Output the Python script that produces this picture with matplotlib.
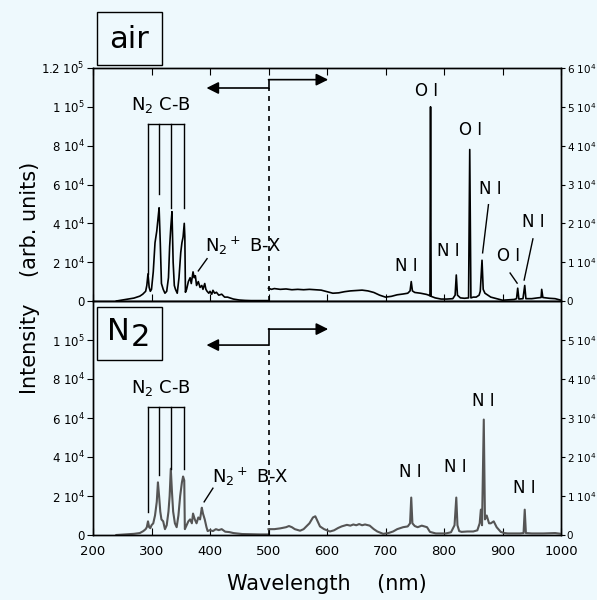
import matplotlib.pyplot as plt
from matplotlib.patches import Rectangle

plt.rcParams['font.family'] = ['DejaVu Sans']
plt.rcParams['mathtext.default'] = 'regular'

BG = '#eef9fd'

# ---- data ----
# air, 240-500 nm, left axis
air_uv_wl = [240, 250, 260, 270, 280, 285, 290, 292, 294, 296, 298, 300, 303, 306, 309, 311, 313,
             315, 317, 320, 323, 326, 329, 331, 333, 335, 337, 339, 341, 344, 347, 350, 352, 354,
             356, 357, 358, 360, 363, 366, 368, 371, 373, 375, 377, 380, 383, 386, 388, 391, 393,
             395, 398, 400, 403, 405, 408, 411, 415, 420, 425, 430, 435, 440, 450, 460, 470, 480,
             490, 499]
air_uv_int = [0, 500, 1000, 1500, 2500, 3500, 5000, 8000, 14000, 7000, 5000, 6000, 15000, 30000,
              36000, 42000, 48000, 30000, 9000, 6000, 4000, 5000, 12000, 28000, 38000, 46000, 20000,
              8000, 6000, 4000, 12000, 25000, 30000, 33000, 40000, 33000, 4500, 6000, 10000, 12000,
              9000, 15000, 12000, 13000, 8000, 10000, 7000, 8000, 6000, 9000, 6000, 5000, 4000,
              5000, 3500, 5500, 4000, 4500, 3000, 3500, 2000, 2000, 1500, 1000, 500, 300, 200, 200,
              200, 200]

# air, 500-1000 nm, right axis
air_ir_wl = [500, 505, 510, 520, 530, 540, 550, 560, 570, 580, 590, 600, 610, 620, 630, 640, 650,
             660, 670, 680, 690, 700, 710, 720, 730, 738, 742, 744, 746, 750, 760, 770, 774, 776,
             777, 778, 785, 795, 805, 815, 819, 821, 823, 828, 835, 842, 844, 846, 850, 855, 860,
             862, 865, 867, 870, 875, 880, 890, 900, 910, 920, 924, 926, 928, 935, 938, 940, 950,
             960, 966, 967, 969, 980, 990, 1000]
air_ir_int = [3300, 3000, 3200, 3000, 3100, 2900, 3000, 2900, 3000, 2900, 2800, 2400, 2000, 2100,
              2400, 2600, 2700, 2800, 2600, 2200, 1500, 1000, 1200, 1600, 1800, 2000, 2600, 5000,
              2600, 2200, 2000, 1700, 1500, 1300, 50000, 1200, 800, 500, 500, 600, 1500, 6700, 1500,
              800, 700, 800, 39000, 800, 1000, 1000, 1500, 2500, 10500, 3000, 2000, 1500, 1000, 600,
              200, 300, 400, 600, 3300, 500, 600, 4000, 600, 600, 800, 900, 3000, 900, 700, 600, 200]

# N2, 240-500 nm, left axis
n2_uv_wl = [240, 250, 260, 270, 280, 286, 290, 292, 294, 296, 298, 300, 303, 306, 309, 311, 313,
            315, 317, 320, 323, 326, 329, 331, 333, 335, 337, 340, 343, 346, 349, 352, 354, 356,
            357, 360, 363, 366, 369, 371, 374, 377, 380, 383, 386, 388, 391, 394, 396, 400, 405,
            410, 415, 420, 426, 433, 440, 455, 470, 485, 499]
n2_uv_int = [0, 200, 400, 600, 1000, 2000, 3000, 4000, 7000, 4000, 3500, 5000, 6000, 10000, 17000,
             27000, 20000, 12000, 8000, 7000, 3000, 5000, 12000, 20000, 34000, 22000, 12000, 6000,
             4000, 10000, 20000, 27000, 30000, 28000, 3000, 5000, 7000, 8000, 6000, 11000, 8000,
             6000, 9000, 8000, 14000, 11000, 8000, 4000, 2000, 2500, 2000, 3000, 2500, 3000, 1700,
             1500, 1000, 500, 400, 300, 300]

# N2, 500-1000 nm, right axis
n2_ir_wl = [500, 510, 520, 530, 535, 540, 545, 554, 560, 570, 576, 580, 584, 588, 595, 605, 612,
            619, 625, 634, 640, 645, 650, 655, 660, 665, 673, 680, 686, 696, 705, 713, 720, 730,
            738, 742, 744, 746, 750, 755, 762, 771, 776, 786, 795, 803, 812, 818, 821, 823, 826,
            830, 840, 850, 857, 861, 863, 865, 868, 870, 873, 877, 880, 885, 890, 897, 903, 909,
            920, 930, 936, 938, 940, 950, 970, 990, 1000]
n2_ir_int = [1500, 1500, 1700, 2000, 2300, 2000, 1500, 1100, 1500, 3000, 4500, 4800, 3500, 2200,
             1500, 900, 1200, 1800, 2200, 2600, 2400, 2700, 2500, 2800, 2500, 2700, 2400, 1500, 900,
             300, 500, 900, 1500, 2000, 2200, 3000, 9600, 3000, 2300, 2000, 2400, 2000, 800, 400,
             400, 400, 700, 2500, 9600, 2500, 1000, 800, 900, 900, 1200, 3000, 6500, 2500, 29600,
             4000, 5000, 3000, 3000, 3500, 2000, 800, 500, 400, 400, 400, 500, 6500, 500, 400, 400,
             500, 300]

x_ticks = [200, 300, 400, 500, 600, 700, 800, 900, 1000]
top_left_ticks = [0, 2e4, 4e4, 6e4, 8e4, 1e5, 1.2e5]
top_left_labels = ['0', '2 10$^4$', '4 10$^4$', '6 10$^4$', '8 10$^4$', '1 10$^5$', '1.2 10$^5$']
bot_left_ticks = [0, 2e4, 4e4, 6e4, 8e4, 1e5]
bot_left_labels = ['0', '2 10$^4$', '4 10$^4$', '6 10$^4$', '8 10$^4$', '1 10$^5$']
top_right_ticks = [0, 1e4, 2e4, 3e4, 4e4, 5e4, 6e4]
top_right_labels = ['0', '1 10$^4$', '2 10$^4$', '3 10$^4$', '4 10$^4$', '5 10$^4$', '6 10$^4$']
bot_right_ticks = [0, 1e4, 2e4, 3e4, 4e4, 5e4]
bot_right_labels = ['0', '1 10$^4$', '2 10$^4$', '3 10$^4$', '4 10$^4$', '5 10$^4$']

# N2 C-B band heads and where their marker lines stop
cb_heads = [294, 312, 333, 356]
air_cb_ends = [14000, 55000, 48000, 48000]
n2_cb_ends = [12000, 31000, 34000, 34000]

# atomic line labels (wavelength, right axis value)
air_lines = [('O I', 771, 54200), ('O I', 846, 44100), ('N I', 879, 28900), ('N I', 735, 8900),
             ('N I', 807, 12800), ('O I', 911, 11500), ('N I', 952, 20300)]
air_pointers = [((876, 24800), (866, 12400)), ((913, 7200), (925, 4600)),
                ((952, 16000), (937, 5400))]
n2_lines = [('N I', 742, 16200), ('N I', 819, 17400), ('N I', 868, 34400), ('N I', 938, 12000)]

fig = plt.figure(figsize=(5.97, 6.0), dpi=100, facecolor=BG)
x0, w = 93 / 597, 468 / 597
ax1 = fig.add_axes([x0, 1 - 301 / 600, w, 233 / 600], facecolor=BG)
ax2 = fig.add_axes([x0, 1 - 535 / 600, w, 234 / 600], facecolor=BG)
ax1r = ax1.twinx()
ax2r = ax2.twinx()

ax1.plot(air_uv_wl, air_uv_int, color='k', lw=1.2)
ax1r.plot(air_ir_wl, air_ir_int, color='k', lw=1.2)
ax2.plot(n2_uv_wl, n2_uv_int, color='#555555', lw=1.5)
ax2r.plot(n2_ir_wl, n2_ir_int, color='#555555', lw=1.5)

for ax, axr, lt, ll, rt, rl in [(ax1, ax1r, top_left_ticks, top_left_labels, top_right_ticks, top_right_labels),
                                (ax2, ax2r, bot_left_ticks, bot_left_labels, bot_right_ticks, bot_right_labels)]:
    ax.set_xlim(200, 1000)
    ax.set_ylim(0, 1.2e5)
    axr.set_ylim(0, 6e4)
    ax.set_xticks(x_ticks)
    ax.set_yticks(lt)
    ax.set_yticklabels(ll)
    axr.set_yticks(rt)
    axr.set_yticklabels(rl)
    ax.tick_params(axis='y', direction='out', length=4, labelsize=8.5, pad=2)
    axr.tick_params(axis='y', direction='out', length=3, labelsize=7.5, pad=1)
    for a in (ax, axr):
        for s in a.spines.values():
            s.set_linewidth(1.0)

ax1.tick_params(axis='x', direction='in', length=5, top=True, bottom=True, labelbottom=False)
ax2.tick_params(axis='x', direction='in', length=5, top=False, bottom=True, labelsize=9.5, pad=7)
ax2.set_xlabel('Wavelength    (nm)', fontsize=15, labelpad=12)

fig.text(30 / 597, 1 - 278 / 600, 'Intensity    (arb. units)', rotation=90, fontsize=15,
         ha='center', va='center')

# N2 C-B brackets
for ax, top, ends, txt_y in [(ax1, 91200, air_cb_ends, 98500), (ax2, 65800, n2_cb_ends, 72800)]:
    ax.plot([cb_heads[0], cb_heads[-1]], [top, top], color='k', lw=1)
    for h, e in zip(cb_heads, ends):
        ax.plot([h, h], [e, top], color='k', lw=1)
    ax.text(316, txt_y, 'N$_2$ C-B', fontsize=13, ha='center', va='baseline')

ax1.text(391, 25400, 'N$_2$$^+$ B-X', fontsize=13, ha='left', va='baseline')
ax1.plot([380, 395], [15500, 21800], color='k', lw=1)
ax2.text(404, 26700, 'N$_2$$^+$ B-X', fontsize=13, ha='left', va='baseline')
ax2.plot([390, 405], [17000, 24000], color='k', lw=1)

for name, x, y in air_lines:
    ax1r.text(x, y, name, fontsize=12, ha='center', va='center')
for (a, b) in air_pointers:
    ax1r.plot([a[0], b[0]], [a[1], b[1]], color='k', lw=1)
for name, x, y in n2_lines:
    ax2r.text(x, y, name, fontsize=12, ha='center', va='center')

# 500 nm split markers and arrows
arrow = dict(arrowstyle='-|>', color='k', lw=1.2, mutation_scale=18, shrinkA=0, shrinkB=0)
for ax, y_left, y_right in [(ax1, 109700, 114000), (ax2, 97400, 105600)]:
    ax.plot([500, 500], [0, y_left], color='k', lw=1.2, ls=(0, (3, 3)))
    ax.plot([500, 500], [y_left, y_right], color='k', lw=1.2)
    ax.annotate('', xy=(394, y_left), xytext=(500, y_left), arrowprops=arrow)
    ax.annotate('', xy=(602, y_right), xytext=(500, y_right), arrowprops=arrow)

# panel boxes
for y_top in (12, 307):
    fig.patches.append(Rectangle((97 / 597, 1 - (y_top + 53) / 600), 65 / 597, 53 / 600,
                                 transform=fig.transFigure, fill=False, ec='k', lw=1))
fig.text(129.5 / 597, 1 - 40 / 600, 'air', fontsize=22, ha='center', va='center')
fig.text(118 / 597, 1 - 331 / 600, 'N', fontsize=22, ha='center', va='center')
fig.text(140 / 597, 1 - 338 / 600, '2', fontsize=22, ha='center', va='center')

fig.savefig('out.png', dpi=100, facecolor=BG)
